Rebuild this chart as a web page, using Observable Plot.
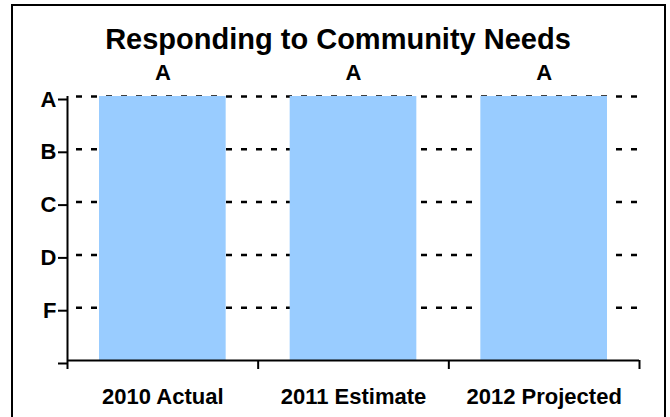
<!DOCTYPE html>
<html>
<head>
<meta charset="utf-8">
<script src="https://cdn.jsdelivr.net/npm/d3@7"></script>
<script src="https://cdn.jsdelivr.net/npm/@observablehq/plot@0.6"></script>
<style>
  html, body { margin: 0; padding: 0; background: #fff; }
  #wrap { position: relative; width: 670px; height: 417px; overflow: hidden; font-family: "Liberation Sans", Arial, sans-serif; }
  #frame { position: absolute; left: 11px; top: 4px; width: 651px; height: 440px; border: 2px solid #000; }
  #title { position: absolute; left: 0; top: 25px; width: 676px; text-align: center; font-size: 29px; line-height: 29px; font-weight: bold; color: #000; }
  #chart { position: absolute; left: 0; top: 60px; }
</style>
</head>
<body>
<div id="wrap">
  <div id="frame"></div>
  <div id="title">Responding to Community Needs</div>
  <div id="chart"></div>
</div>
<script>
const categories = ["2010 Actual", "2011 Estimate", "2012 Projected"];
const gradeValues = [5, 5, 5];          // A = 5, B = 4, C = 3, D = 2, F = 1
const gradeLabels = ["A", "A", "A"];
const tickValues = [0, 1, 2, 3, 4, 5];
const tickLabels = ["", "F", "D", "C", "B", "A"];
const gridValues = [1, 2, 3, 4, 5];

const data = categories.map((c, i) => ({category: c, index: i, grade: gradeValues[i], label: gradeLabels[i]}));

const chart = Plot.plot({
  width: 670,
  height: 357,
  marginTop: 36,
  marginBottom: 57,
  marginLeft: 67,
  marginRight: 31,
  x: {domain: [0, categories.length], axis: null},
  y: {domain: [0, 5], axis: null},
  style: {fontFamily: '"Liberation Sans", Arial, sans-serif', fontWeight: "bold", color: "#000", background: "transparent", overflow: "visible"},
  marks: [
    Plot.ruleY(gridValues, {stroke: "#000", strokeWidth: 2.5, strokeDasharray: "6,9", strokeDashoffset: 6}),
    Plot.rectY(data, {x1: "index", x2: d => d.index + 1, y: "grade", insetLeft: 32, insetRight: 32, fill: "#99CCFF"}),
    Plot.text(data, {x: d => d.index + 0.5, y: "grade", text: "label", dy: -24, fontSize: 22, fontWeight: "bold", fill: "#000"}),
    Plot.axisY({ticks: tickValues, tickFormat: v => tickLabels[v], tickSize: 9, tickPadding: 2, fontSize: 22, fontWeight: "bold", strokeWidth: 2, dy: 3, label: null}),
    Plot.axisX({ticks: d3.range(categories.length + 1), tickSize: 9, tickFormat: () => "", strokeWidth: 2, label: null}),
    Plot.axisX({ticks: categories.map((c, i) => i + 0.5), tickSize: 0, tickPadding: 28, tickFormat: v => categories[Math.floor(v)], fontSize: 22, fontWeight: "bold", label: null}),
    Plot.ruleX([0], {stroke: "#000", strokeWidth: 2}),
    Plot.ruleY([0], {stroke: "#000", strokeWidth: 2})
  ]
});
document.getElementById("chart").appendChild(chart);
</script>
</body>
</html>
